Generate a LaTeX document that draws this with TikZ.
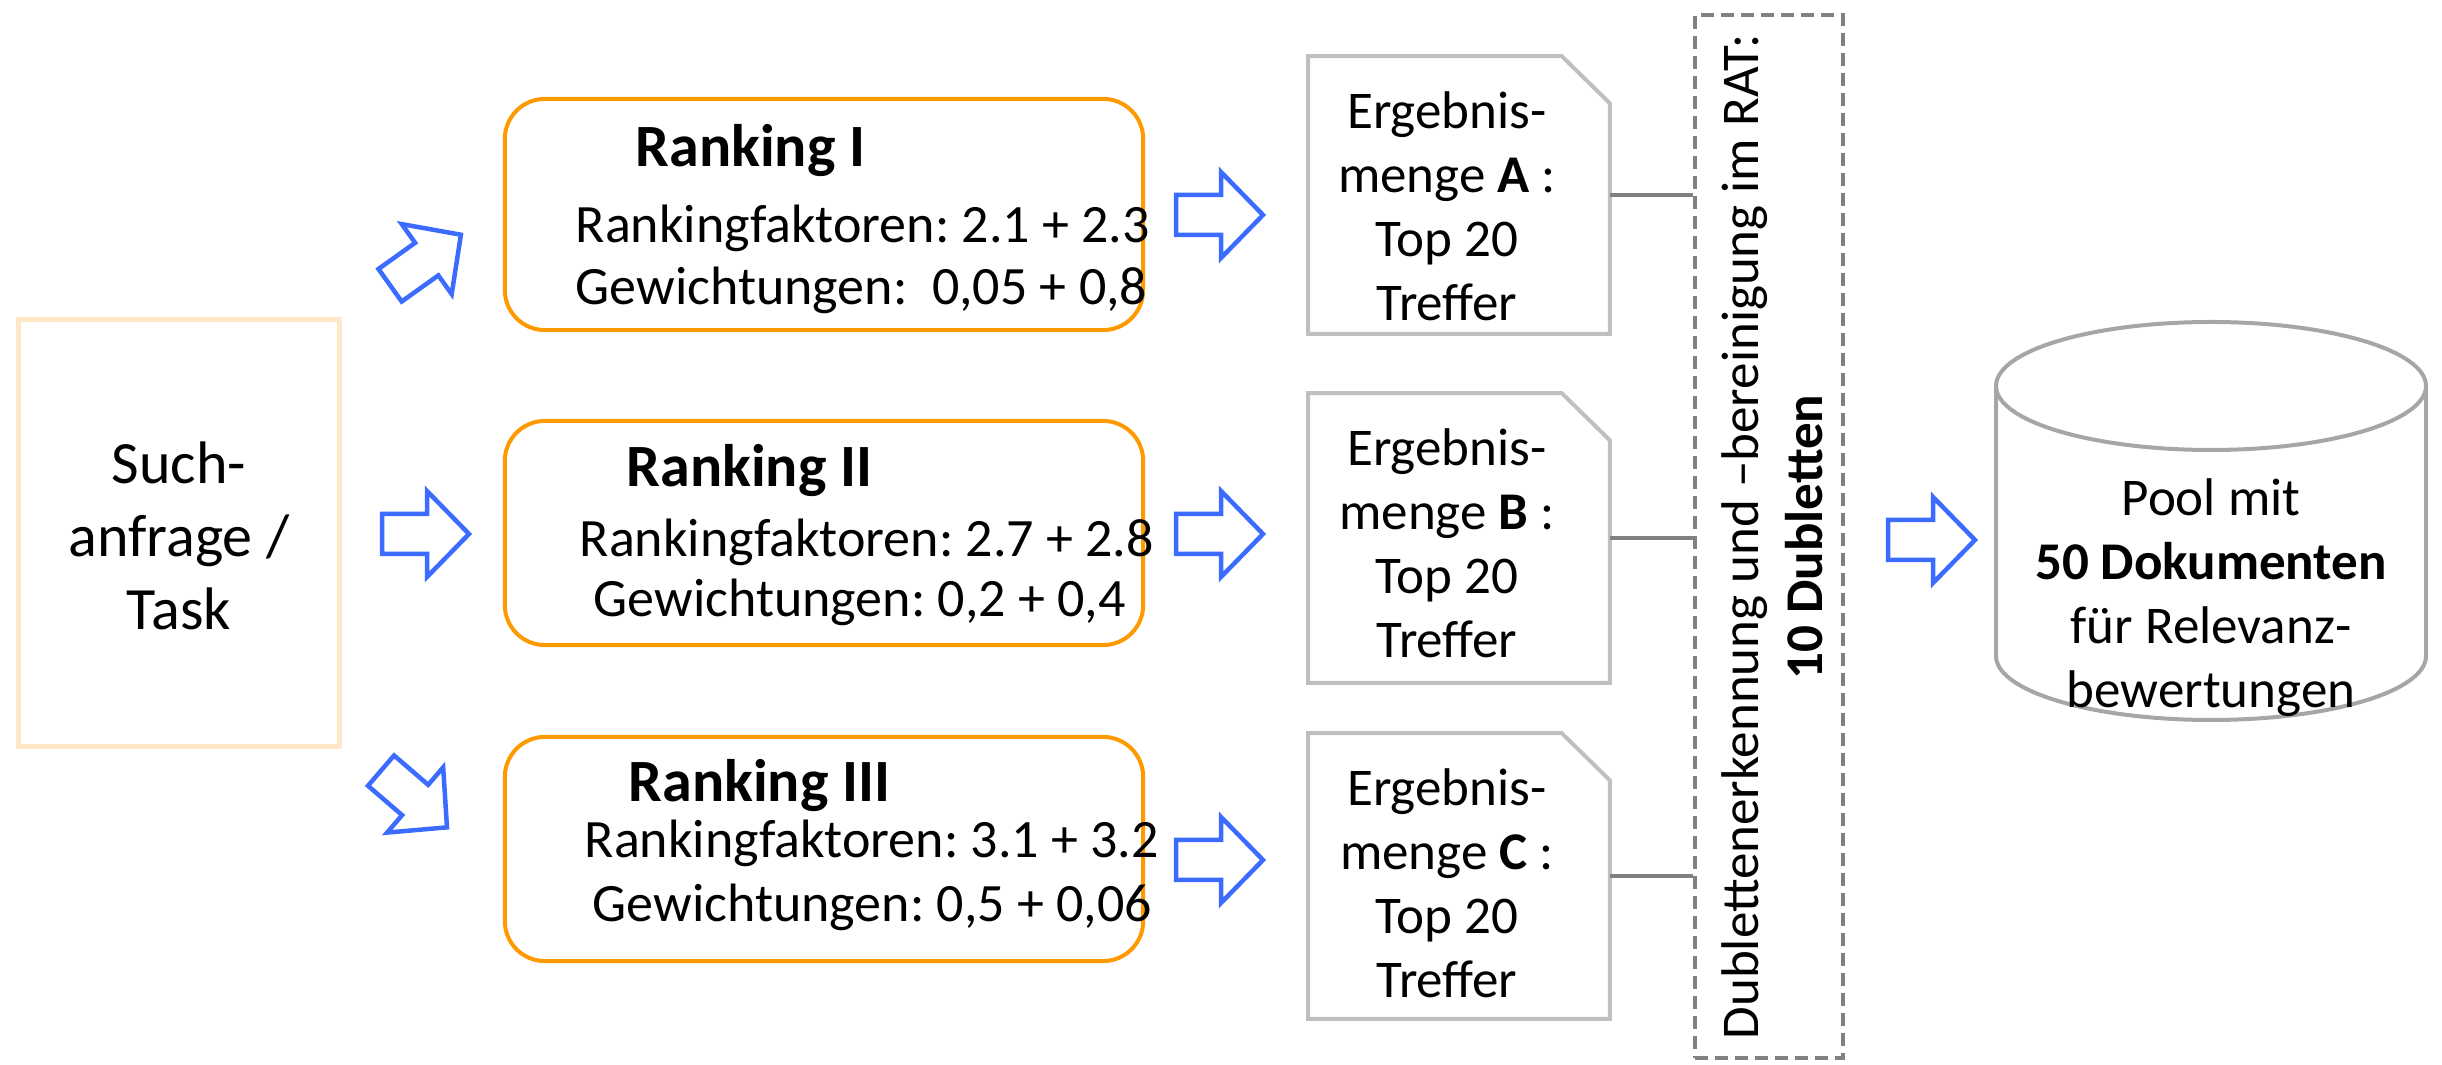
\documentclass[tikz,border=0pt]{standalone}
\usepackage{fontspec}
\setmainfont{Carlito}
\frenchspacing
\definecolor{blueC}{RGB}{60,108,255}
\definecolor{orangeC}{RGB}{255,153,0}
\definecolor{peachC}{RGB}{255,231,200}
\definecolor{docC}{RGB}{191,191,191}
\definecolor{connC}{RGB}{128,128,128}
\definecolor{cylC}{RGB}{166,166,166}
\newcommand\blockarrow[2]{\begin{scope}[shift={#1},rotate=#2]
\draw[barrow] (-43.5,-20) -- (1.5,-20) -- (1.5,-43) -- (43.5,0) -- (1.5,43) -- (1.5,20) -- (-43.5,20) -- cycle;
\end{scope}}
\begin{document}
\frenchspacing
\begin{tikzpicture}[x=0.01cm,y=-0.01cm,
  txt/.style={inner sep=0pt, align=center, font=\fontsize{15.08pt}{18.21pt}\selectfont},
  bigtxt/.style={inner sep=0pt, align=center, font=\fontsize{17.07pt}{20.77pt}\selectfont},
  rtxt/.style={inner sep=0pt, anchor=base west, font=\fontsize{15.36pt}{17.64pt}\selectfont},
  rtitle/.style={inner sep=0pt, anchor=base west, font=\fontsize{17.07pt}{20pt}\selectfont\bfseries},
  rankbox/.style={draw=orangeC, line width=0.04cm, rounded corners=0.4cm, minimum width=6.38cm, inner sep=0pt},
  docbox/.style={minimum width=3.00cm, inner sep=0pt},
  docline/.style={draw=docC, line width=0.04cm, line join=miter},
  conn/.style={draw=connC, line width=0.04cm},
  barrow/.style={draw=blueC, line width=0.045cm, line join=miter},
  cyl/.style={draw=cylC, line width=0.04cm}]
\useasboundingbox (0,0) rectangle (2442,1065);

% Suchanfrage
\node[draw=peachC, line width=0.05cm, minimum width=3.20cm, minimum height=4.26cm, inner sep=0pt] (such) at (179,533) {};
\node[bigtxt] (suchT) at (179,536) {Such-\\anfrage /\\Task};

% block arrows from the query
\blockarrow{(425.5,260)}{35.5}
\blockarrow{(425.5,534)}{0}
\blockarrow{(414,799)}{-40.7}

% Ranking boxes
\node[rankbox, minimum height=2.31cm] (r1) at (824,214.5) {};
\node[rtitle] (r1t) at (635,167) {Ranking I};
\node[rtxt] (r1a) at (575,243) {Rankingfaktoren: 2.1 + 2.3};
\node[rtxt] (r1b) at (575,305) {Gewichtungen:\ \ 0,05 + 0,8};

\node[rankbox, minimum height=2.24cm] (r2) at (824,533) {};
\node[rtitle] (r2t) at (626,487) {Ranking II};
\node[rtxt] (r2a) at (579,557) {Rankingfaktoren: 2.7 + 2.8};
\node[rtxt] (r2b) at (593,617) {Gewichtungen: 0,2 + 0,4};

\node[rankbox, minimum height=2.24cm] (r3) at (824,849) {};
\node[rtitle] (r3t) at (628,802) {Ranking III};
\node[rtxt] (r3a) at (584,858) {Rankingfaktoren: 3.1 + 3.2};
\node[rtxt] (r3b) at (592,922) {Gewichtungen: 0,5 + 0,06};

% arrows to result sets
\blockarrow{(1219.5,215)}{0}
\blockarrow{(1219.5,534)}{0}
\blockarrow{(1219.5,860)}{0}

% result documents
\node[docbox, minimum height=2.76cm] (dA) at (1459,195) {};
\draw[docline] (dA.south west) -- (dA.north west) -- ([xshift=-0.48cm]dA.north east) -- ([yshift=-0.47cm]dA.north east) -- (dA.south east) -- cycle;
\node[txt] (dAt) at (1447,206) {Ergebnis-\\menge \textbf{A} :\\Top 20\\Treffer};

\node[docbox, minimum height=2.88cm] (dB) at (1459,538) {};
\draw[docline] (dB.south west) -- (dB.north west) -- ([xshift=-0.48cm]dB.north east) -- ([yshift=-0.47cm]dB.north east) -- (dB.south east) -- cycle;
\node[txt] (dBt) at (1447,543) {Ergebnis-\\menge \textbf{B} :\\Top 20\\Treffer};

\node[docbox, minimum height=2.84cm] (dC) at (1459,876) {};
\draw[docline] (dC.south west) -- (dC.north west) -- ([xshift=-0.48cm]dC.north east) -- ([yshift=-0.47cm]dC.north east) -- (dC.south east) -- cycle;
\node[txt] (dCt) at (1447,883) {Ergebnis-\\menge \textbf{C} :\\Top 20\\Treffer};

% dedup box
\node[draw=connC, line width=0.04cm, dash pattern=on 0.13cm off 0.07cm, minimum width=1.48cm, minimum height=10.43cm, inner sep=0pt] (dedup) at (1769,536.5) {};
\node[txt, rotate=90] (dedupT) at (1772,537) {Dublettenerkennung und –bereinigung im RAT:\\\textbf{10 Dubletten}};

\draw[conn] (dA.east) -- (dA.east -| dedup.west);
\draw[conn] (dB.east) -- (dB.east -| dedup.west);
\draw[conn] (dC.east) -- (dC.east -| dedup.west);

% arrow to pool
\blockarrow{(1931.5,540)}{0}

% cylinder
\coordinate (cylTop) at (2211,386);
\coordinate (cylBot) at (2211,656);
\draw[cyl] (cylTop) ellipse [x radius=215, y radius=64];
\draw[cyl] (1996,386) -- (1996,656) arc[start angle=180, end angle=0, x radius=215, y radius=64] -- (2426,386);
\node[txt] (pool) at (2211,598) {Pool mit\\\textbf{50 Dokumenten}\\für Relevanz-\\bewertungen};
\end{tikzpicture}
\end{document}
